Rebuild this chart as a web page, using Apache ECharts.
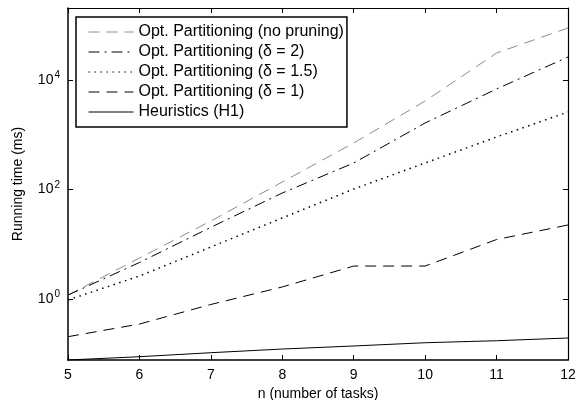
<!DOCTYPE html>
<html>
<head>
<meta charset="utf-8">
<script src="https://cdn.jsdelivr.net/npm/echarts@6/dist/echarts.min.js"></script>
<style>
  html, body { margin: 0; padding: 0; background: #fff; }
  #chart { width: 579px; height: 400px; }
</style>
</head>
<body>
<div id="chart"></div>
<script>
// n (number of tasks)
const tasks = [5, 6, 7, 8, 9, 10, 11, 12]
// running time in ms
const noPruning = [1.18, 5.6, 26.6, 137, 707, 4130, 31100, 89100]
const delta2 = [1.18, 4.64, 20.4, 86.3, 305, 1640, 6850, 26300]
const delta15 = [0.96, 2.63, 8.9, 30.2, 102, 305, 910, 2600]
const delta1 = [0.205, 0.349, 0.794, 1.66, 4.0, 4.0, 12.2, 22.5]
const heuristics = [0.0769, 0.0883, 0.1045, 0.122, 0.1386, 0.159, 0.173, 0.194]
// y tick values
const yTicks = [1, 100, 10000]

const font = 'Liberation Sans, Arial, Helvetica, sans-serif'
const pairs = arr => tasks.map((t, i) => [t, arr[i]])

const chart = echarts.init(document.getElementById('chart'))

// 每条曲线的样式
const mkLine = (name, data, color, type, width) => ({
  name,
  type: 'line',
  data: pairs(data),
  symbol: 'none',
  showSymbol: false,
  lineStyle: { color, type, width },
  itemStyle: { color },
  animation: false
})

const yAxisBase = {
  type: 'log',
  logBase: 10,
  min: 0.0769,
  max: 206500,
  splitLine: { show: false },
  minorTick: { show: false },
  axisLine: { show: true, lineStyle: { color: '#000', width: 1.5 } },
  axisTick: { inside: true, length: 5, customValues: yTicks, lineStyle: { color: '#000' } }
}

const xAxisBase = {
  type: 'value',
  min: 5,
  max: 12,
  interval: 1,
  splitLine: { show: false },
  axisLine: { show: true, onZero: false, lineStyle: { color: '#000', width: 1.5 } },
  axisTick: { inside: true, length: 5, lineStyle: { color: '#000' } }
}

const option = {
  backgroundColor: '#fff',
  animation: false,
  grid: { left: 68, right: 11, top: 8, bottom: 40, outerBoundsMode: 'none' },
  legend: {
    orient: 'vertical',
    left: 76,
    top: 17,
    padding: [5, 3, 5, 12],
    itemGap: 0,
    itemWidth: 45,
    itemHeight: 14,
    borderColor: '#000',
    borderWidth: 1.5,
    borderRadius: 0,
    backgroundColor: '#fff',
    itemStyle: { opacity: 0 },
    lineStyle: { width: 1 },
    textStyle: { fontFamily: font, fontSize: 16, color: '#000', lineHeight: 20 },
    data: ['Opt. Partitioning (no pruning)', 'Opt. Partitioning (δ = 2)', 'Opt. Partitioning (δ = 1.5)',
      'Opt. Partitioning (δ = 1)', 'Heuristics (H1)']
  },
  xAxis: [
    Object.assign({}, xAxisBase, {
      position: 'bottom',
      name: 'n (number of tasks)',
      nameLocation: 'middle',
      nameGap: 23,
      nameTextStyle: { fontFamily: font, fontSize: 14, color: '#000' },
      axisLabel: { fontFamily: font, fontSize: 14, color: '#000', margin: 8 }
    }),
    Object.assign({}, xAxisBase, {
      position: 'top',
      axisLine: { show: true, onZero: false, lineStyle: { color: '#000', width: 1.2 } },
      axisLabel: { show: false }
    })
  ],
  yAxis: [
    Object.assign({}, yAxisBase, {
      position: 'left',
      name: 'Running time (ms)',
      nameLocation: 'middle',
      nameGap: 43,
      nameTextStyle: { fontFamily: font, fontSize: 14, color: '#000' },
      axisLabel: {
        customValues: yTicks,
        margin: 8,
        fontFamily: font,
        fontSize: 14,
        color: '#000',
        formatter: v => '10{s|' + Math.round(Math.log10(v)) + '}',
        rich: {
          s: { fontFamily: font, fontSize: 10, color: '#000', padding: [0, 0, 9, 1] }
        }
      }
    }),
    Object.assign({}, yAxisBase, {
      position: 'right',
      axisLine: { show: true, lineStyle: { color: '#000', width: 1.2 } },
      axisLabel: { show: false }
    })
  ],
  series: [
    mkLine('Opt. Partitioning (no pruning)', noPruning, '#8c8c8c', [11, 7], 1),
    mkLine('Opt. Partitioning (δ = 2)', delta2, '#000', [11, 5, 2, 5], 1),
    mkLine('Opt. Partitioning (δ = 1.5)', delta15, '#000', [1.5, 4.5], 1.5),
    mkLine('Opt. Partitioning (δ = 1)', delta1, '#000', [11, 7], 1),
    mkLine('Heuristics (H1)', heuristics, '#000', 'solid', 1)
  ]
}

chart.setOption(option)
</script>
</body>
</html>
